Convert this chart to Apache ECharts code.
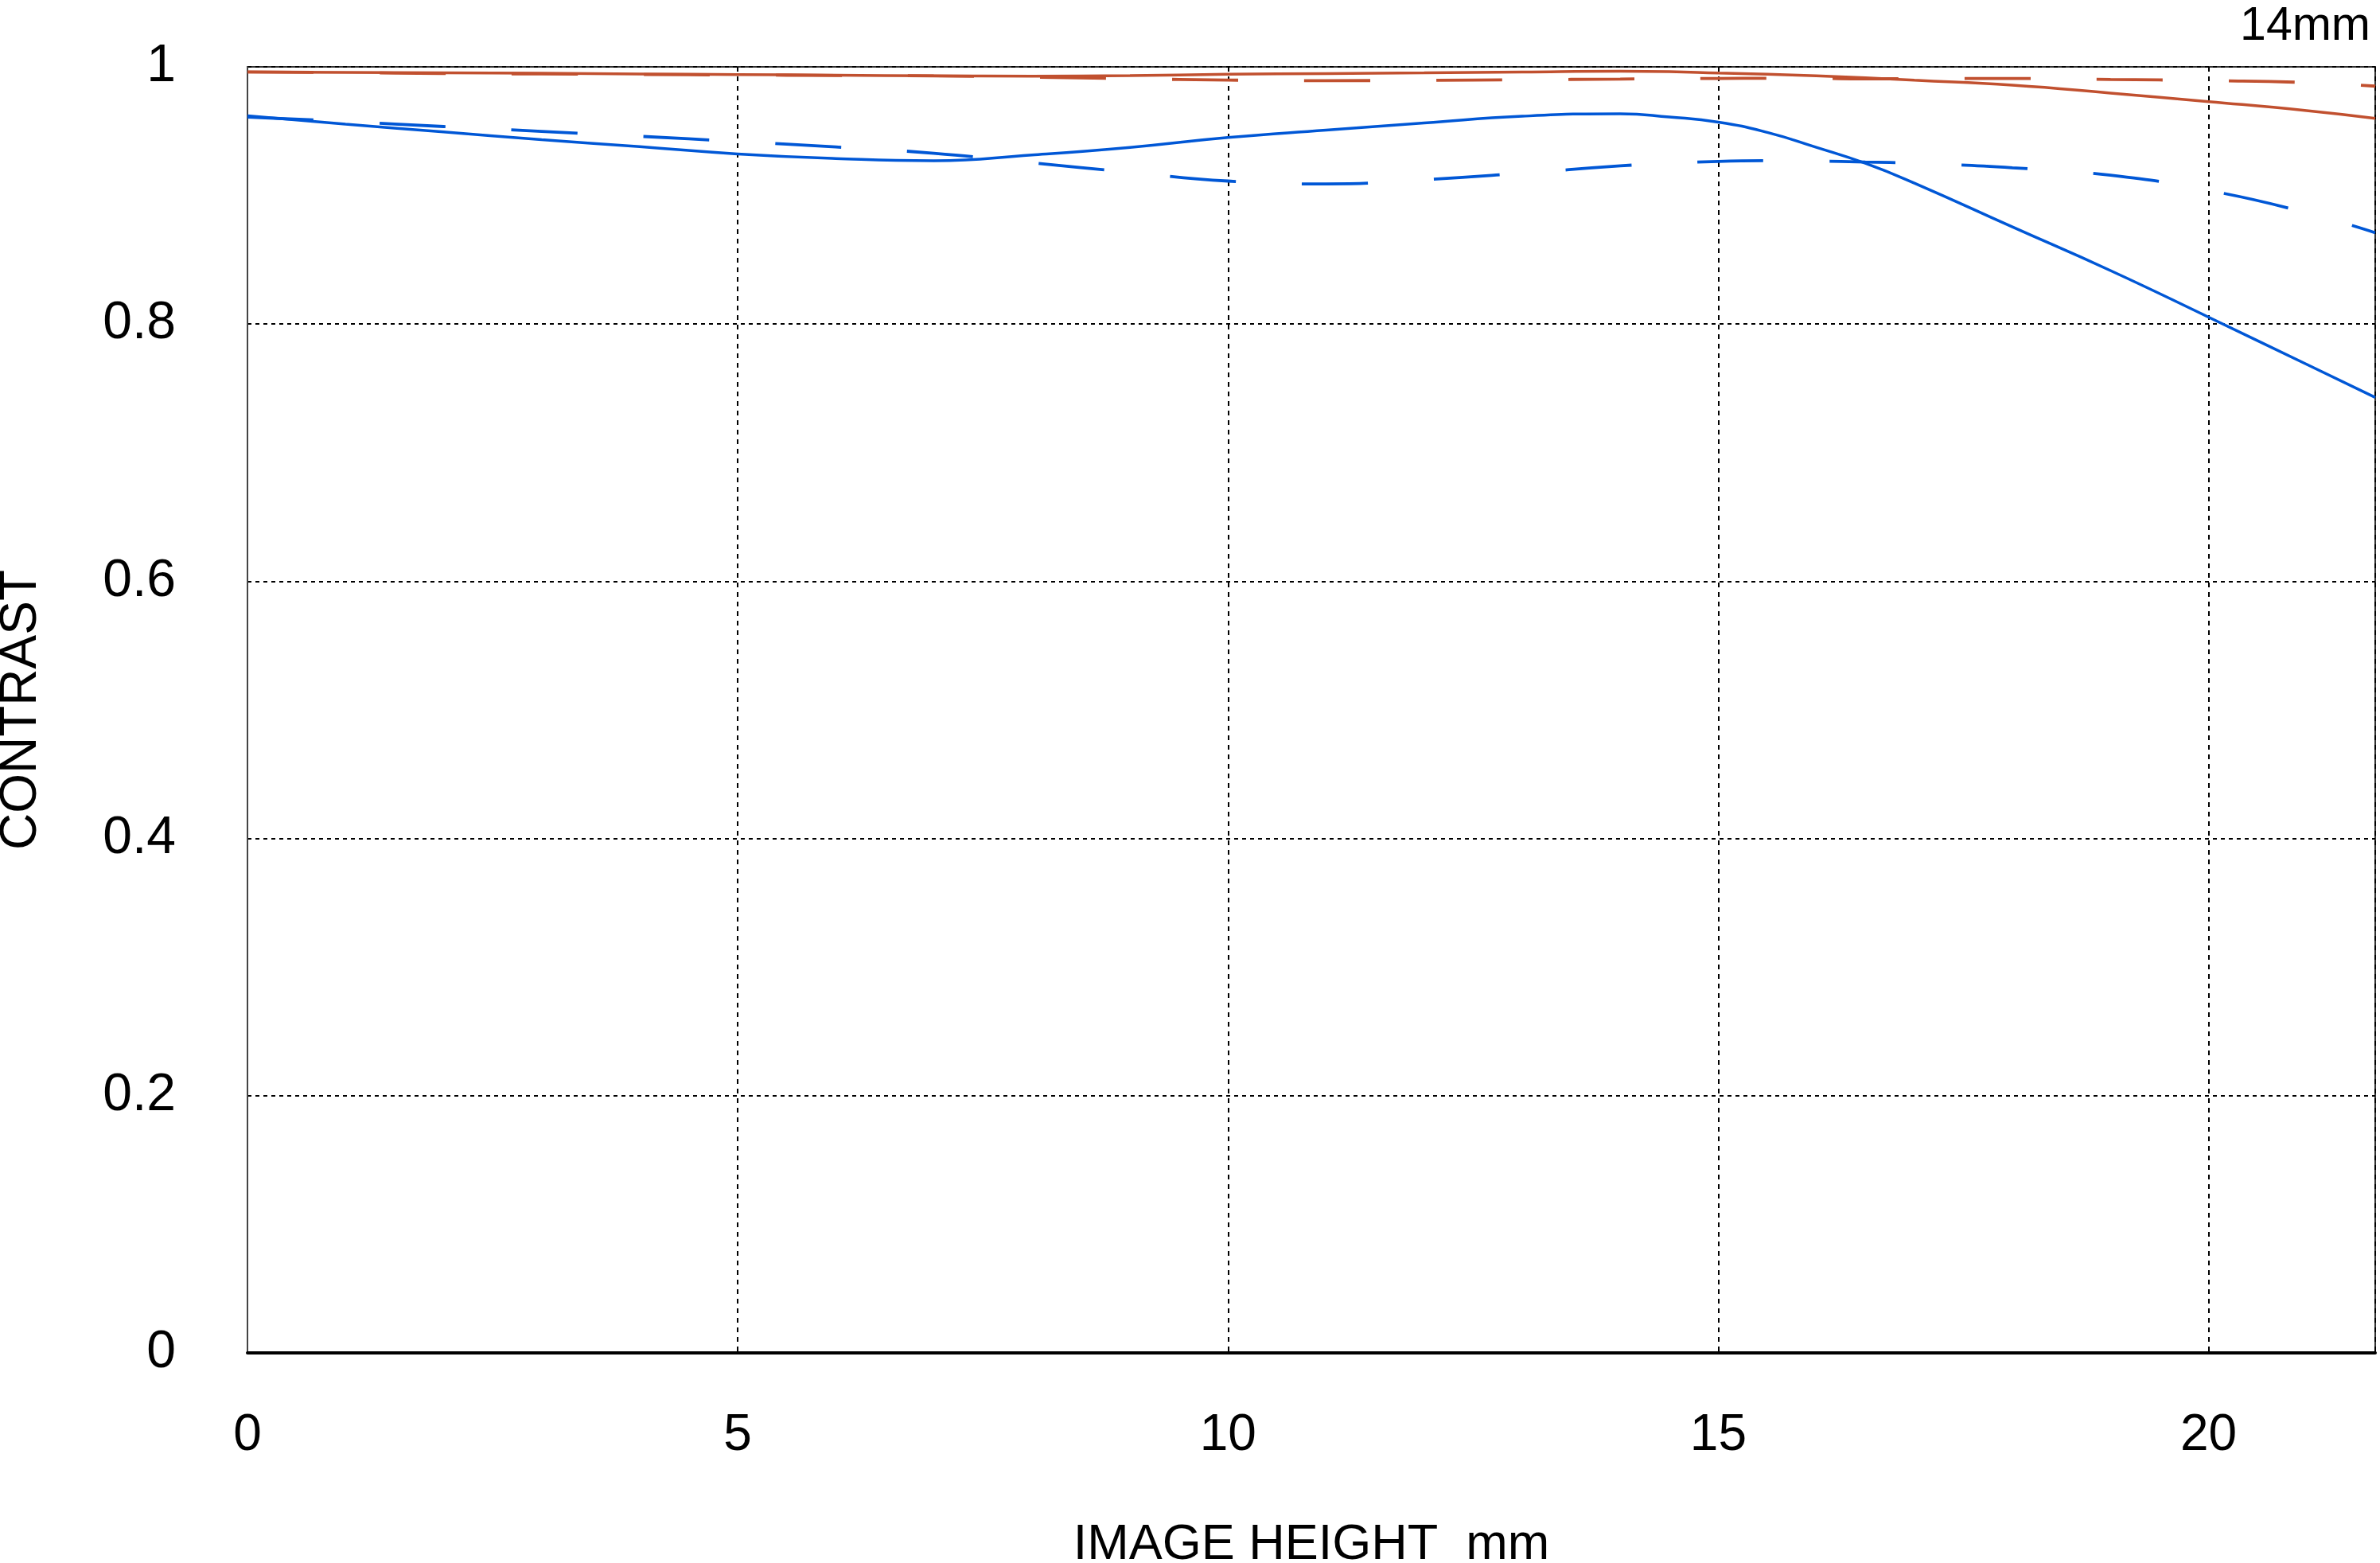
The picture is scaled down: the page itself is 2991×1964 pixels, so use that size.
<!DOCTYPE html>
<html>
<head>
<meta charset="utf-8">
<script src="https://cdn.jsdelivr.net/npm/echarts@6/dist/echarts.min.js"></script>
<style>
html,body{margin:0;padding:0;background:#fff;}
#chart{width:2991px;height:1964px;}
</style>
</head>
<body>
<div id="chart"></div>
<script>
// Image height (mm)
const imageHeight = [0,1,2,3,4,5,6,7,8,9,10,11,12,13,14,14.5,15,15.5,16,16.5,17,18,19,20,21,21.7];
// Red solid
const redSolid = [0.996,0.9957,0.9953,0.995,0.9945,0.994,0.9935,0.993,0.9928,0.9932,0.9942,0.9948,0.9953,0.996,0.9966,0.9963,0.9952,0.9942,0.993,0.9915,0.9896,0.9857,0.9796,0.973,0.966,0.960];
// Red dashed
const redDashed = [0.996,0.9955,0.9948,0.9945,0.994,0.9937,0.9933,0.993,0.992,0.9908,0.9897,0.9893,0.9895,0.99,0.9905,0.9908,0.991,0.9911,0.991,0.9907,0.9908,0.991,0.9902,0.9893,0.9878,0.985];
// Blue solid
const blueSolid = [0.962,0.9555,0.9494,0.9434,0.9379,0.9323,0.9287,0.927,0.9315,0.9374,0.9451,0.9508,0.9563,0.9616,0.9635,0.961,0.957,0.949,0.9374,0.925,0.9096,0.8755,0.8416,0.8054,0.7687,0.743];
// Blue dashed
const blueDashed = [0.961,0.9575,0.9536,0.9498,0.946,0.942,0.9377,0.9328,0.9254,0.918,0.9112,0.909,0.9123,0.9173,0.923,0.925,0.9265,0.927,0.9267,0.926,0.925,0.9215,0.9157,0.9039,0.8866,0.871];

const xTicks = [0,5,10,15,20];
const yTicks = [0,0.2,0.4,0.6,0.8,1];

const RED = '#C1502F';
const BLUE = '#0057D6';
const FONT = 'Liberation Sans';

function pairs(ys){ return imageHeight.map((x,i)=>[x, ys[i]]); }

const chart = echarts.init(document.getElementById('chart'), null, {renderer:'canvas'});
const lineBase = {type:'line', showSymbol:false, symbol:'none', smooth:0.5, animation:false};
chart.setOption({
  animation:false,
  backgroundColor:'#fff',
  title:{text:'14mm', right:12, top:4, padding:0,
    textStyle:{fontFamily:FONT, fontSize:59, fontWeight:'normal', color:'#000'}},
  grid:{left:311, right:6, top:84, bottom:264, outerBoundsMode:'none', containLabel:false,
    show:true, borderColor:'#333', borderWidth:2, backgroundColor:'transparent'},
  xAxis:{type:'value', min:0, max:21.7, interval:5,
    name:'IMAGE HEIGHT  mm', nameLocation:'middle', nameGap:210,
    nameTextStyle:{fontFamily:FONT, fontSize:63, color:'#000'},
    axisLine:{show:true, lineStyle:{color:'#000', width:4}},
    axisTick:{show:false},
    axisLabel:{fontFamily:FONT, fontSize:64, color:'#000', margin:72, showMaxLabel:false,
      formatter:v=> xTicks.includes(v) ? String(v) : ''},
    splitLine:{show:true, lineStyle:{color:'#000', width:2, type:[6,6]}}
  },
  yAxis:{type:'value', min:0, max:1, interval:0.2,
    name:'CONTRAST', nameLocation:'middle', nameGap:252,
    nameTextStyle:{fontFamily:FONT, fontSize:64, color:'#000'},
    axisLine:{show:true, lineStyle:{color:'#444', width:2}},
    axisTick:{show:false},
    axisLabel:{fontFamily:FONT, fontSize:66, color:'#000', margin:90,
      formatter:v=> String(yTicks.find(t=>Math.abs(t-v)<1e-9) ?? '')},
    splitLine:{show:true, lineStyle:{color:'#000', width:2, type:[5,5]}}
  },
  series:[
    Object.assign({}, lineBase, {name:'red dashed', data:pairs(redDashed), lineStyle:{color:RED, width:3.8, type:[83,83]}}),
    Object.assign({}, lineBase, {name:'red solid', data:pairs(redSolid), lineStyle:{color:RED, width:3.5}}),
    Object.assign({}, lineBase, {name:'blue dashed', data:pairs(blueDashed), lineStyle:{color:BLUE, width:3.8, type:[83,83]}}),
    Object.assign({}, lineBase, {name:'blue solid', data:pairs(blueSolid), lineStyle:{color:BLUE, width:3.5}})
  ]
});
</script>
</body>
</html>
